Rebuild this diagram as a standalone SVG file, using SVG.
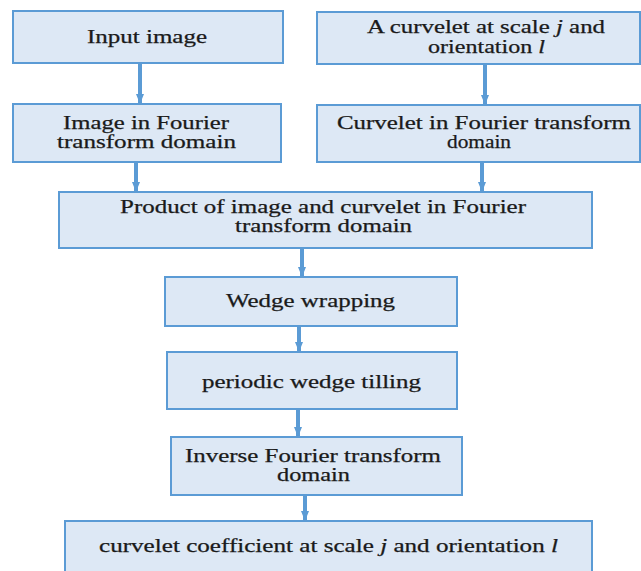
<svg xmlns="http://www.w3.org/2000/svg" width="641" height="571" viewBox="0 0 641 571">
<style>
.box{fill:#dde8f5;stroke:#5b9bd5;stroke-width:2}
.t{font-family:"Liberation Serif","Times New Roman",serif;font-size:18px;fill:#1a1a1a;stroke:#1a1a1a;stroke-width:0.25;text-anchor:start}
.c{stroke:#5b9bd5;stroke-width:4;fill:none;marker-end:url(#ah)}
</style>
<defs>
<marker id="ah" viewBox="0 0 10 10" refX="9" refY="5" markerWidth="2.5" markerHeight="2.5" orient="auto" markerUnits="strokeWidth">
<path d="M0,1 L10,5 L0,9 z" fill="#5b9bd5"/>
</marker>
</defs>
<rect width="641" height="571" fill="#fff"/>
<g id="connectors">
<line class="c" x1="140" y1="64" x2="140" y2="103"/>
<line class="c" x1="485" y1="65" x2="485" y2="104"/>
<line class="c" x1="136" y1="163" x2="136" y2="191"/>
<line class="c" x1="482" y1="163" x2="482" y2="191"/>
<line class="c" x1="302" y1="249" x2="302" y2="276"/>
<line class="c" x1="299" y1="326" x2="299" y2="351"/>
<line class="c" x1="298" y1="410" x2="298" y2="436"/>
<line class="c" x1="305" y1="496" x2="305" y2="520"/>
</g>
<g id="n1">
<rect class="box" x="13" y="11" width="270" height="52"/>
<text class="t" x="87" y="43" textLength="120" lengthAdjust="spacingAndGlyphs">Input image</text>
</g>
<g id="n2">
<rect class="box" x="317" y="12" width="323" height="52"/>
<text class="t" x="367" y="33" textLength="238" lengthAdjust="spacingAndGlyphs">A curvelet at scale <tspan font-style="italic">j</tspan> and</text>
<text class="t" x="428" y="53" textLength="117" lengthAdjust="spacingAndGlyphs">orientation <tspan font-style="italic">l</tspan></text>
</g>
<g id="n3">
<rect class="box" x="13" y="104" width="268" height="58"/>
<text class="t" x="63" y="129" textLength="166" lengthAdjust="spacingAndGlyphs">Image in Fourier</text>
<text class="t" x="57" y="148" textLength="179" lengthAdjust="spacingAndGlyphs">transform domain</text>
</g>
<g id="n4">
<rect class="box" x="317" y="105" width="323" height="57"/>
<text class="t" x="337" y="129" textLength="294" lengthAdjust="spacingAndGlyphs">Curvelet in Fourier transform</text>
<text class="t" x="447" y="148" textLength="64" lengthAdjust="spacingAndGlyphs">domain</text>
</g>
<g id="n5">
<rect class="box" x="59" y="192" width="533" height="56"/>
<text class="t" x="120" y="213" textLength="406" lengthAdjust="spacingAndGlyphs">Product of image and curvelet in Fourier</text>
<text class="t" x="235" y="232" textLength="177" lengthAdjust="spacingAndGlyphs">transform domain</text>
</g>
<g id="n6">
<rect class="box" x="165" y="277" width="292" height="49"/>
<text class="t" x="226" y="307" textLength="169" lengthAdjust="spacingAndGlyphs">Wedge wrapping</text>
</g>
<g id="n7">
<rect class="box" x="167" y="352" width="290" height="57"/>
<text class="t" x="202" y="388" textLength="219" lengthAdjust="spacingAndGlyphs">periodic wedge tilling</text>
</g>
<g id="n8">
<rect class="box" x="171" y="437" width="291" height="58"/>
<text class="t" x="185" y="462" textLength="256" lengthAdjust="spacingAndGlyphs">Inverse Fourier transform</text>
<text class="t" x="277" y="481" textLength="73" lengthAdjust="spacingAndGlyphs">domain</text>
</g>
<g id="n9">
<rect class="box" x="65" y="521" width="527" height="60"/>
<text class="t" x="99" y="552" textLength="459" lengthAdjust="spacingAndGlyphs">curvelet coefficient at scale <tspan font-style="italic">j</tspan> and orientation <tspan font-style="italic">l</tspan></text>
</g>
</svg>
